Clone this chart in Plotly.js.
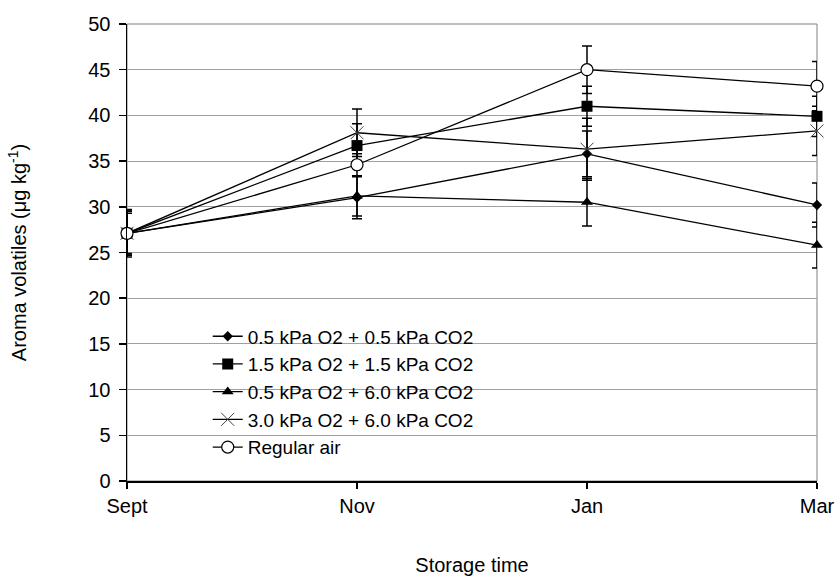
<!DOCTYPE html>
<html>
<head>
<meta charset="utf-8">
<script src="https://cdn.plot.ly/plotly-3.0.1.min.js"></script>
<style>
  html, body { margin: 0; padding: 0; background: #fff; }
  #chart { width: 837px; height: 579px; }
</style>
</head>
<body>
<div id="chart"></div>
<script>
// ---- data ----
const categories = ['Sept', 'Nov', 'Jan', 'Mar'];

const seriesNames = [
  '0.5 kPa O2 + 0.5 kPa CO2',
  '1.5 kPa O2 + 1.5 kPa CO2',
  '0.5 kPa O2 + 6.0 kPa CO2',
  '3.0 kPa O2 + 6.0 kPa CO2',
  'Regular air'
];

const lowO2LowCO2      = [27.1, 31.0, 35.8, 30.2];
const lowO2LowCO2Err   = [2.4, 2.3, 2.5, 2.4];

const midO2MidCO2      = [27.1, 36.7, 41.0, 39.9];
const midO2MidCO2Err   = [2.4, 2.4, 2.2, 2.2];

const lowO2HighCO2     = [27.1, 31.2, 30.5, 25.8];
const lowO2HighCO2Err  = [2.2, 2.2, 2.6, 2.5];

const highO2HighCO2    = [27.1, 38.1, 36.3, 38.3];
const highO2HighCO2Err = [2.6, 2.6, 3.4, 2.7];

const regularAir       = [27.1, 34.6, 45.0, 43.2];
const regularAirErr    = [2.4, 1.2, 2.6, 2.7];

const yTickValues = [0, 5, 10, 15, 20, 25, 30, 35, 40, 45, 50];

// ---- styles ----
const FONT = '"Liberation Sans", Arial, Helvetica, sans-serif';
const errStyle = (arr) => ({
  type: 'data', array: arr, visible: true,
  color: '#000', thickness: 1.5, width: 5
});
const lineStyle = { color: '#000', width: 1.3 };

const traces = [
  {
    name: seriesNames[0], x: categories, y: lowO2LowCO2,
    error_y: errStyle(lowO2LowCO2Err),
    mode: 'lines+markers', line: lineStyle,
    marker: { symbol: 'diamond', size: 8, color: '#000' }
  },
  {
    name: seriesNames[1], x: categories, y: midO2MidCO2,
    error_y: errStyle(midO2MidCO2Err),
    mode: 'lines+markers', line: lineStyle,
    marker: { symbol: 'square', size: 11, color: '#000' }
  },
  {
    name: seriesNames[2], x: categories, y: lowO2HighCO2,
    error_y: errStyle(lowO2HighCO2Err),
    mode: 'lines+markers', line: lineStyle,
    marker: { symbol: 'triangle-up', size: 10.5, color: '#000' }
  },
  {
    name: seriesNames[3], x: categories, y: highO2HighCO2,
    error_y: errStyle(highO2HighCO2Err),
    mode: 'lines+markers', line: lineStyle,
    marker: { symbol: 'x-thin', size: 13, color: '#000',
              line: { color: '#444', width: 1 } }
  },
  {
    name: seriesNames[4], x: categories, y: regularAir,
    error_y: errStyle(regularAirErr),
    mode: 'lines+markers', line: lineStyle,
    marker: { symbol: 'circle', size: 12, color: '#fff',
              line: { color: '#000', width: 1.2 } }
  }
].map(t => Object.assign(t, { type: 'scatter', cliponaxis: false }));

const layout = {
  width: 837, height: 579,
  paper_bgcolor: '#fff', plot_bgcolor: '#fff',
  font: { family: FONT, size: 20, color: '#000' },
  margin: { l: 127, r: 20, t: 24, b: 98 },
  showlegend: true,
  legend: {
    x: 0.117, xanchor: 'left',
    y: 0.358, yanchor: 'top',
    bgcolor: 'rgba(0,0,0,0)',
    font: { family: FONT, size: 19, color: '#000' },
    tracegroupgap: 0
  },
  xaxis: {
    type: 'category',
    range: [0, 3],
    showgrid: false,
    zeroline: false,
    showline: true, linecolor: '#000', linewidth: 2,
    ticks: 'outside', ticklen: 6, tickcolor: '#000', tickwidth: 1.5,
    tickfont: { family: FONT, size: 20, color: '#000' },
    title: { text: 'Storage time', standoff: 42,
             font: { family: FONT, size: 20, color: '#000' } },
    automargin: false
  },
  yaxis: {
    range: [0, 50],
    tickvals: yTickValues,
    showgrid: true, gridcolor: '#a0a0a0', gridwidth: 1,
    zeroline: false,
    showline: true, linecolor: '#000', linewidth: 1.5,
    ticks: 'outside', ticklen: 7, tickcolor: '#000', tickwidth: 1.5,
    ticklabelstandoff: 4,
    tickfont: { family: FONT, size: 20, color: '#000' },
    title: { text: 'Aroma volatiles (μg kg<sup>-1</sup>)', standoff: 56,
             font: { family: FONT, size: 20, color: '#000' } },
    automargin: false
  },
  shapes: [
    // plot-area frame (right edge visible in the reference)
    { type: 'rect', xref: 'paper', yref: 'paper', x0: 0, x1: 1, y0: 0, y1: 1,
      line: { color: '#808080', width: 1 }, fillcolor: 'rgba(0,0,0,0)', layer: 'below' },
    // white legend box masking the gridlines behind the legend
    { type: 'rect', xref: 'paper', yref: 'y', x0: 0.02, x1: 0.593, y0: 1, y1: 18.5,
      line: { width: 0 }, fillcolor: '#fff', layer: 'between' }
  ]
};

Plotly.newPlot('chart', traces, layout, { displayModeBar: false, staticPlot: true });
</script>
</body>
</html>
